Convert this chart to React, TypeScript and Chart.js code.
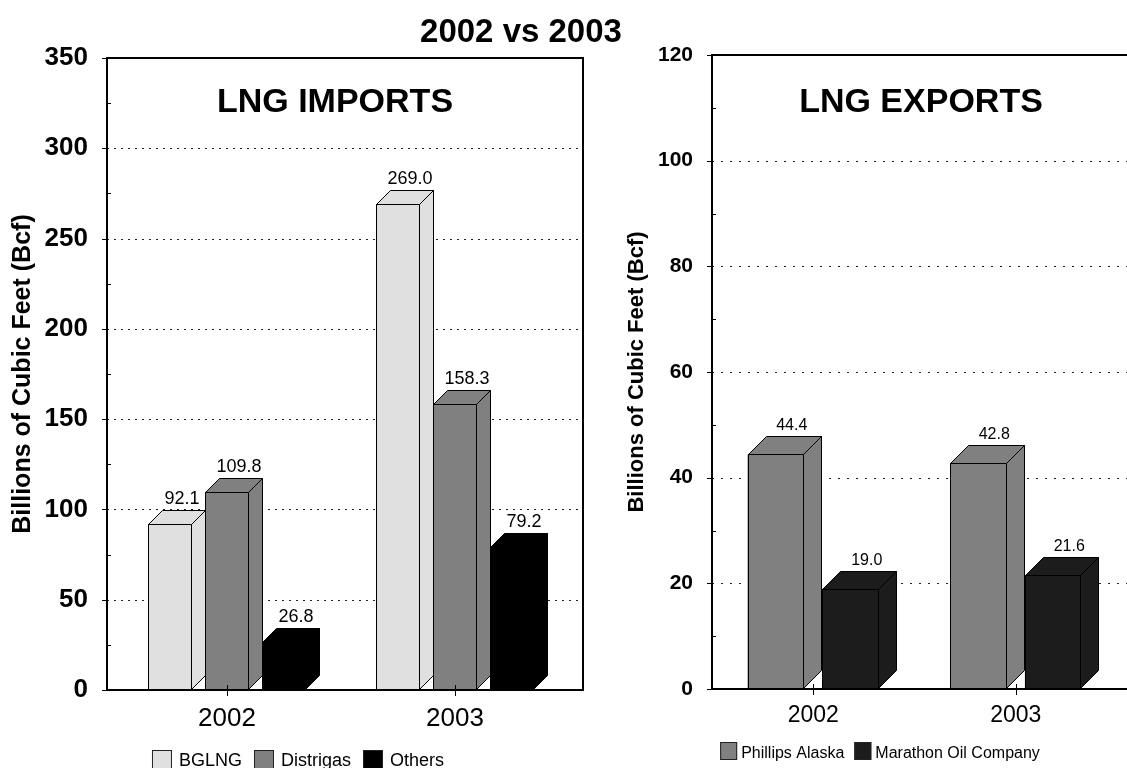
import React, { useEffect, useRef } from "react";
import { Chart, registerables } from "chart.js";

Chart.register(...registerables);

const FONT = "'Liberation Sans', Arial, Helvetica, sans-serif";

// ---------- data ----------
const mainTitle = "2002 vs 2003";
const years = ["2002", "2003"];
const axisTitle = "Billions of Cubic Feet (Bcf)";

// LNG imports (Bcf)
const importTitle = "LNG IMPORTS";
const importNames = ["BGLNG", "Distrigas", "Others"];
const importBGLNG = [92.1, 269.0];
const importDistrigas = [109.8, 158.3];
const importOthers = [26.8, 79.2];
const importColors = ["#e0e0e0", "#808080", "#000000"];
const importMax = 350;
const importStep = 50;

// LNG exports (Bcf)
const exportTitle = "LNG EXPORTS";
const exportNames = ["Phillips Alaska", "Marathon Oil Company"];
const exportPhillips = [44.4, 42.8];
const exportMarathon = [19.0, 21.6];
const exportColors = ["#808080", "#1c1c1c"];
const exportMax = 120;
const exportStep = 20;

// ---------- 3D bar + frame plugin ----------
const threeD = {
  id: "threeD",
  beforeDatasetsDraw(chart: any, _a: any, o: any) {
    const ctx = chart.ctx;
    const { left, right, top, bottom } = chart.chartArea;
    const fl = left + o.frameLeft;
    const fr = right + o.frameRight;
    const y = chart.scales.y;
    ctx.save();
    // dotted gridlines
    ctx.strokeStyle = "#222";
    ctx.lineWidth = 1;
    ctx.setLineDash(o.dash);
    y.ticks.forEach((t: any) => {
      if (t.value <= y.min || t.value >= y.max) return;
      const py = Math.round(y.getPixelForValue(t.value)) + 0.5;
      ctx.beginPath();
      ctx.moveTo(fl, py);
      ctx.lineTo(fr, py);
      ctx.stroke();
    });
    ctx.setLineDash([]);
    // major (outward) and minor (inward) ticks
    ctx.strokeStyle = "#000";
    y.ticks.forEach((t: any, i: number) => {
      const py = Math.round(y.getPixelForValue(t.value)) + 0.5;
      ctx.beginPath();
      ctx.moveTo(fl - 5, py);
      ctx.lineTo(fl, py);
      ctx.stroke();
      if (i < y.ticks.length - 1) {
        const mv = (t.value + y.ticks[i + 1].value) / 2;
        const my = Math.round(y.getPixelForValue(mv)) + 0.5;
        ctx.beginPath();
        ctx.moveTo(fl, my);
        ctx.lineTo(fl + 4, my);
        ctx.stroke();
      }
    });
    // frame (top, right, left)
    ctx.lineWidth = 2;
    ctx.beginPath();
    ctx.moveTo(fl, bottom);
    ctx.lineTo(fl, top);
    ctx.lineTo(fr, top);
    ctx.lineTo(fr, bottom);
    ctx.stroke();
    // panel title
    ctx.fillStyle = "#000";
    ctx.font = `bold ${o.panelTitleSize}px ${FONT}`;
    ctx.textAlign = "center";
    ctx.textBaseline = "alphabetic";
    ctx.fillText(o.panelTitle, o.panelTitleX, o.panelTitleY);
    ctx.restore();
  },
  afterDatasetsDraw(chart: any, _a: any, o: any) {
    const ctx = chart.ctx;
    const { left, right, bottom } = chart.chartArea;
    const fl0 = left + o.frameLeft;
    const fr0 = right + o.frameRight;
    ctx.save();
    chart.data.datasets.forEach((ds: any, di: number) => {
      const meta = chart.getDatasetMeta(di);
      meta.data.forEach((el: any, i: number) => {
        const p = el.getProps(["x", "y", "base", "width"], true);
        const w = p.width;
        const d = Math.round(w * o.depthRatio);
        const fl = Math.round(p.x - w / 2) + 0.5;
        const fr = Math.round(p.x + w / 2) - 0.5;
        const top = Math.round(p.y) + 0.5;
        const base = Math.round(p.base) - 0.5;
        ctx.fillStyle = ds.backgroundColor;
        ctx.strokeStyle = o.edge;
        ctx.lineWidth = 1;
        // front face (pixel aligned over the library's bar)
        ctx.beginPath();
        ctx.rect(fl, top, fr - fl, base - top);
        ctx.fill();
        ctx.stroke();
        // side face
        ctx.beginPath();
        ctx.moveTo(fr, top);
        ctx.lineTo(fr + d, top - d);
        ctx.lineTo(fr + d, base - d);
        ctx.lineTo(fr, base);
        ctx.closePath();
        ctx.fill();
        ctx.stroke();
        // top face
        ctx.beginPath();
        ctx.moveTo(fl, top);
        ctx.lineTo(fl + d, top - d);
        ctx.lineTo(fr + d, top - d);
        ctx.lineTo(fr, top);
        ctx.closePath();
        ctx.fill();
        ctx.stroke();
        // value label
        ctx.fillStyle = "#000";
        ctx.font = `${o.valueSize}px ${FONT}`;
        ctx.textAlign = "center";
        ctx.textBaseline = "alphabetic";
        ctx.fillText(Number(ds.data[i]).toFixed(1), p.x + d - 2, p.y - d - 6);
      });
    });
    // category axis line + ticks
    ctx.strokeStyle = "#000";
    ctx.lineWidth = 2;
    ctx.beginPath();
    ctx.moveTo(fl0 - 1, bottom);
    ctx.lineTo(fr0 + 1, bottom);
    ctx.stroke();
    const x = chart.scales.x;
    ctx.lineWidth = 1;
    chart.data.labels.forEach((_l: any, i: number) => {
      const px = Math.round(x.getPixelForValue(i)) + 0.5;
      ctx.beginPath();
      ctx.moveTo(px, bottom - 5);
      ctx.lineTo(px, bottom + 6);
      ctx.stroke();
    });
    ctx.restore();
  },
  afterDraw(chart: any, _a: any, o: any) {
    const ctx = chart.ctx;
    ctx.save();
    ctx.font = `${o.legendSize}px ${FONT}`;
    ctx.textBaseline = "alphabetic";
    ctx.textAlign = "left";
    const items = chart.data.datasets.map((ds: any) => ({ label: ds.label, color: ds.backgroundColor }));
    const widths = items.map((it: any) => o.legendBoxW + o.legendGap + ctx.measureText(it.label).width);
    const total = widths.reduce((a: number, b: number) => a + b, 0) + o.legendSpacing * (items.length - 1);
    let cx = o.legendX - total / 2;
    items.forEach((it: any, k: number) => {
      ctx.fillStyle = it.color;
      ctx.fillRect(cx, o.legendBoxTop, o.legendBoxW, o.legendBoxH);
      ctx.strokeStyle = "#222";
      ctx.lineWidth = 1;
      ctx.strokeRect(cx + 0.5, o.legendBoxTop + 0.5, o.legendBoxW - 1, o.legendBoxH - 1);
      ctx.fillStyle = "#000";
      ctx.fillText(it.label, cx + o.legendBoxW + o.legendGap, o.legendBaseline);
      cx += widths[k] + o.legendSpacing;
    });
    ctx.restore();
  },
};

type Panel = {
  names: string[];
  series: number[][];
  colors: string[];
  max: number;
  step: number;
  width: number;
  padTop: number;
  padRight: number;
  yWidth: number;
  xHeight: number;
  yTickSize: number;
  yTickPad: number;
  yTitleSize: number;
  yTitlePad: number;
  xTickSize: number;
  xTickPad: number;
  catPct: number;
  look: any;
};

function makeConfig(p: Panel): any {
  return {
    type: "bar",
    data: {
      labels: years,
      datasets: p.series.map((vals, i) => ({
        label: p.names[i],
        data: vals,
        backgroundColor: p.colors[i],
        borderColor: "#000",
        borderWidth: 0,
        categoryPercentage: p.catPct,
        barPercentage: 0.755,
      })),
    },
    options: {
      responsive: false,
      devicePixelRatio: 1,
      animation: false,
      events: [],
      layout: { padding: { top: p.padTop, right: p.padRight, bottom: 0, left: 0 } },
      plugins: {
        legend: { display: false },
        tooltip: { enabled: false },
        title: { display: false },
        threeD: p.look,
      },
      scales: {
        x: {
          type: "category",
          offset: true,
          grid: { display: false, drawTicks: false },
          border: { display: false },
          ticks: { color: "#000", font: { family: FONT, size: p.xTickSize }, padding: p.xTickPad, maxRotation: 0 },
          afterFit: (s: any) => {
            s.height = p.xHeight;
          },
        },
        y: {
          min: 0,
          max: p.max,
          grid: { display: false, drawTicks: false },
          border: { display: false },
          ticks: {
            stepSize: p.step,
            color: "#000",
            font: { family: FONT, size: p.yTickSize, weight: "bold" },
            padding: p.yTickPad,
          },
          title: {
            display: true,
            text: axisTitle,
            color: "#000",
            font: { family: FONT, size: p.yTitleSize, weight: "bold" },
            padding: { top: p.yTitlePad, bottom: 0 },
          },
          afterFit: (s: any) => {
            s.width = p.yWidth;
          },
        },
      },
    },
    plugins: [threeD],
  };
}

const leftPanel: Panel = {
  names: importNames,
  series: [importBGLNG, importDistrigas, importOthers],
  colors: importColors,
  max: importMax,
  step: importStep,
  width: 595,
  padTop: 58,
  padRight: 26,
  yWidth: 113,
  xHeight: 78,
  yTickSize: 26,
  yTickPad: 25,
  yTitleSize: 25,
  yTitlePad: 8,
  xTickSize: 26,
  xTickPad: 13,
  catPct: 0.75,
  look: {
    frameLeft: -6,
    frameRight: 14,
    depthRatio: 0.32,
    dash: [2, 5],
    edge: "#000",
    panelTitle: importTitle,
    panelTitleX: 335,
    panelTitleY: 112,
    panelTitleSize: 34,
    valueSize: 18,
    legendX: 298,
    legendBoxTop: 750,
    legendBoxW: 20,
    legendBoxH: 20,
    legendGap: 7,
    legendSpacing: 12,
    legendBaseline: 766,
    legendSize: 18,
  },
};

const rightPanel: Panel = {
  names: exportNames,
  series: [exportPhillips, exportMarathon],
  colors: exportColors,
  max: exportMax,
  step: exportStep,
  width: 532,
  padTop: 55,
  padRight: 10,
  yWidth: 117,
  xHeight: 79,
  yTickSize: 21,
  yTickPad: 19,
  yTitleSize: 22,
  yTitlePad: 29,
  xTickSize: 23,
  xTickPad: 13,
  catPct: 0.74,
  look: {
    frameLeft: 0,
    frameRight: 18,
    depthRatio: 0.32,
    dash: [2, 7],
    edge: "#000",
    panelTitle: exportTitle,
    panelTitleX: 326,
    panelTitleY: 112,
    panelTitleSize: 34,
    valueSize: 16,
    legendX: 285,
    legendBoxTop: 742,
    legendBoxW: 17,
    legendBoxH: 18,
    legendGap: 4,
    legendSpacing: 10,
    legendBaseline: 758,
    legendSize: 16,
  },
};

function BarPanel({ panel, left }: { panel: Panel; left: number }) {
  const ref = useRef<HTMLCanvasElement>(null);
  useEffect(() => {
    const chart = new Chart(ref.current as HTMLCanvasElement, makeConfig(panel));
    return () => chart.destroy();
  }, [panel]);
  return (
    <canvas
      ref={ref}
      width={panel.width}
      height={768}
      style={{ position: "absolute", left, top: 0, width: panel.width, height: 768 }}
    />
  );
}

export default function App() {
  return (
    <div
      style={{
        position: "fixed",
        left: 0,
        top: 0,
        width: 1127,
        height: 768,
        overflow: "hidden",
        background: "#fff",
      }}
    >
      <BarPanel panel={leftPanel} left={0} />
      <BarPanel panel={rightPanel} left={595} />
      <div
        style={{
          position: "absolute",
          left: 0,
          width: 1042,
          top: 14,
          textAlign: "center",
          fontFamily: FONT,
          fontWeight: "bold",
          fontSize: 33,
          lineHeight: "34px",
          color: "#000",
        }}
      >
        {mainTitle}
      </div>
    </div>
  );
}
